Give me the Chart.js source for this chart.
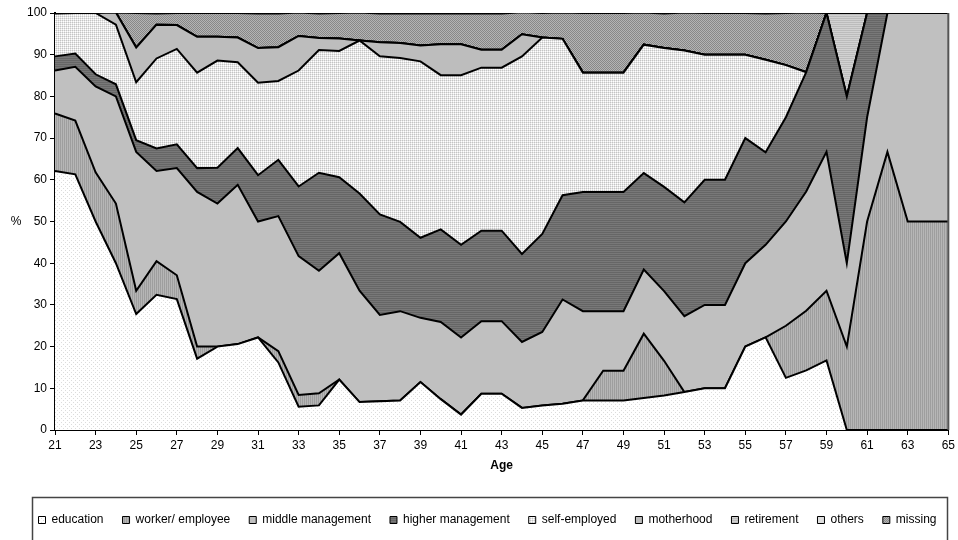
<!DOCTYPE html>
<html><head><meta charset="utf-8">
<script src="https://cdn.jsdelivr.net/npm/chart.js@4.4.0/dist/chart.umd.min.js"></script>
<style>html,body{margin:0;padding:0;background:#fff;}#wrap{width:958px;height:540px;position:relative;}</style>
</head><body><div id="wrap"><canvas id="c" width="958" height="540"></canvas></div>
<script>
const ages = ['21','22','23','24','25','26','27','28','29','30','31','32','33','34','35','36','37','38','39','40','41','42','43','44','45','46','47','48','49','50','51','52','53','54','55','56','57','58','59','60','61','62','63','64','65'];
const seriesNames = ['education','worker/ employee','middle management','higher management','self-employed','motherhood','retirement','others','missing'];
const education = [62.1,61.3,50.0,40.0,27.8,32.4,31.4,17.1,20.0,20.6,22.2,16.2,5.6,5.9,12.1,6.7,6.9,7.1,11.5,7.4,3.7,8.7,8.7,5.3,5.9,6.3,7.1,7.1,7.1,7.7,8.3,9.1,10,10,20,22.2,12.5,14.3,16.7,0,0,0,0,0,0];
const worker = [13.8,12.9,11.8,14.3,5.6,8.1,5.7,2.9,0,0,0,2.7,2.8,2.9,0,0,0,0,0,0,0,0,0,0,0,0,0,7.1,7.1,15.4,8.3,0,0,0,0,0,12.5,14.3,16.7,20,50,66.7,50,50,50];
const middleMgmt = [10.3,12.9,20.6,25.7,33.3,21.6,25.7,37.1,34.3,38.2,27.8,32.4,33.3,29.4,30.3,26.7,20.7,21.4,15.4,18.5,18.5,17.4,17.4,15.8,17.6,25.0,21.4,14.3,14.3,15.4,16.7,18.2,20,20,20,22.2,25,28.6,33.3,20,25,33.3,50,50,50];
const higherMgmt = [3.4,3.2,2.9,2.9,2.8,5.4,5.7,5.7,8.6,8.8,11.1,13.5,16.7,23.5,18.2,23.3,24.1,21.4,19.2,22.2,22.2,21.7,21.7,21.1,23.5,25.0,28.6,28.6,28.6,23.1,25.0,27.3,30,30,30,22.2,25,28.6,33.3,40,25,0,0,0,0];
const selfEmployed = [10.3,9.7,14.7,14.3,13.9,21.6,22.9,22.9,25.7,20.6,22.2,18.9,27.8,29.4,30.3,36.7,37.9,39.3,42.3,37.0,40.7,39.1,39.1,47.4,47.1,37.5,28.6,28.6,28.6,30.8,33.3,36.4,30,30,20,22.2,12.5,0,0,0,0,0,0,0,0];
const motherhood = [0,0,0,2.9,8.3,8.1,5.7,8.6,5.7,5.9,8.3,8.1,8.3,2.9,3.0,0,3.4,3.6,3.8,7.4,7.4,4.3,4.3,5.3,0,0,0,0,0,0,0,0,0,0,0,0,0,0,0,0,0,0,0,0,0];
const retirement = [0,0,0,0,0,0,0,0,0,0,0,0,0,0,0,0,0,0,0,0,0,0,0,0,0,0,0,0,0,0,0,0,0,0,0,0,0,0,0,20,0,0,0,0,0];
const others = [0,0,0,0,0,0,0,0,0,0,0,0,0,0,0,0,0,0,0,0,0,0,0,0,0,0,0,0,0,0,0,0,0,0,0,0,0,0,0,0,0,0,0,0,0];
const missing = [0,0,0,0,8.3,2.7,2.9,5.7,5.7,5.9,8.3,8.1,5.6,5.9,6.1,6.7,6.9,7.1,7.7,7.4,7.4,8.7,8.7,5.3,5.9,6.3,14.3,14.3,14.3,7.7,8.3,9.1,10,10,10,11.1,12.5,14.3,0,0,0,0,0,0,0];
const yTicks = [0,10,20,30,40,50,60,70,80,90,100];

function pat(w, h, px) {
  const c = document.createElement('canvas'); c.width = w; c.height = h;
  const x = c.getContext('2d');
  px.forEach((col, i) => { x.fillStyle = col; x.fillRect(i % w, Math.floor(i / w), 1, 1); });
  return x.createPattern(c, 'repeat');
}
const W = '#ffffff';
const fills = [
  pat(4,4,[W,W,W,'#dcdcdc', W,W,W,W, W,'#dcdcdc',W,W, W,W,W,W]),
  pat(2,1,['#9e9e9e','#b6b6b6']),
  '#c0c0c0',
  pat(1,2,['#666666','#787878']),
  pat(2,2,['#c4c4c4','#e6e6e6','#e6e6e6',W]),
  '#bdbdbd',
  pat(1,2,['#bcbcbc','#d2d2d2']),
  '#dedede',
  pat(2,2,['#888888','#b4b4b4','#b4b4b4','#888888'])
];
const values = [education, worker, middleMgmt, higherMgmt, selfEmployed, motherhood, retirement, others, missing];
const datasets = values.map((d, i) => ({
  label: seriesNames[i], data: d, backgroundColor: fills[i], borderColor: '#000', borderWidth: 2,
  pointRadius: 0, tension: 0, fill: i === 0 ? 'origin' : '-1'
}));
const FONT = "'Liberation Sans', Arial, sans-serif";
const extras = {
  id: 'extras',
  afterLayout(chart) {
    if (chart.legend) { chart.legend.left += 8; chart.legend.right += 8; }
  },
  afterDraw(chart) {
    const ctx = chart.ctx, a = chart.chartArea;
    ctx.save();
    ctx.strokeStyle = '#555'; ctx.lineWidth = 2;
    ctx.beginPath(); ctx.moveTo(a.right, a.top); ctx.lineTo(a.right, a.bottom); ctx.stroke();
    ctx.fillStyle = '#000'; ctx.font = '12px ' + FONT; ctx.textAlign = 'center'; ctx.textBaseline = 'middle';
    ctx.fillText('%', 16, 222);
    ctx.strokeStyle = '#444'; ctx.lineWidth = 1.5;
    ctx.strokeRect(32.5, 497.5, 915, 60);
    ctx.restore();
  }
};
new Chart(document.getElementById('c'), {
  type: 'line',
  data: { labels: ages, datasets },
  plugins: [extras],
  options: {
    responsive: false, animation: false, devicePixelRatio: 1,
    layout: { padding: { top: 13, right: 9, left: 10, bottom: 4 } },
    elements: { line: { borderJoinStyle: 'miter' } },
    scales: {
      x: {
        z: 1, offset: false,
        grid: { drawOnChartArea: false, drawTicks: true, tickLength: 5, offset: false,
          tickColor: (c) => (c.index % 2 === 0 ? '#000' : 'rgba(0,0,0,0)') },
        border: { display: true, color: '#000', width: 2 },
        ticks: { autoSkip: false, maxRotation: 0, color: '#000', padding: 3, font: { family: FONT, size: 12 },
          callback: function (v, i) { return i % 2 === 0 ? this.getLabelForValue(v) : ''; } },
        title: { display: true, text: 'Age', color: '#000', font: { family: FONT, size: 12, weight: 'bold' }, padding: { top: 4, bottom: 22 } },
        afterFit: (s) => { s.height = 65; }
      },
      y: {
        z: 1, stacked: true, min: 0, max: 100,
        afterBuildTicks: (s) => { s.ticks = yTicks.map(v => ({ value: v })); },
        grid: { color: 'rgba(0,0,0,0.3)', lineWidth: 1, tickLength: 5, tickColor: '#000' },
        border: { display: true, color: '#000', width: 2 },
        ticks: { color: '#000', padding: 3, font: { family: FONT, size: 12 } },
        afterFit: (s) => { s.width = 45; }
      }
    },
    plugins: {
      legend: {
        position: 'bottom',
        labels: {
          boxWidth: 7, boxHeight: 7, padding: 19, color: '#000', font: { family: FONT, size: 12 },
          generateLabels(chart) {
            const items = Chart.defaults.plugins.legend.labels.generateLabels(chart);
            items.forEach(it => { it.lineWidth = 1; it.strokeStyle = '#000'; });
            return items;
          }
        }
      },
      tooltip: { enabled: false }
    }
  }
});
</script></body></html>
